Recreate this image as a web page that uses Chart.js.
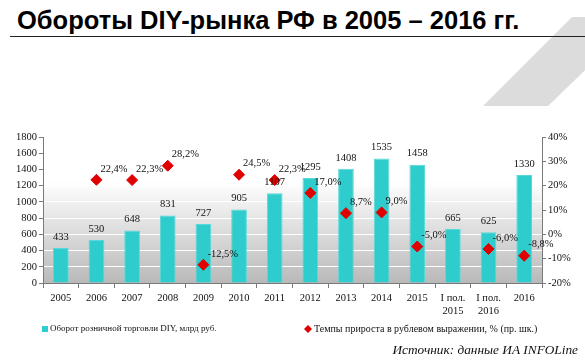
<!DOCTYPE html>
<html>
<head>
<meta charset="utf-8">
<script src="https://cdn.jsdelivr.net/npm/chart.js@4"></script>
<style>
  body { margin: 0; background: #fff; }
  #wrap { position: relative; width: 585px; height: 364px; overflow: hidden; }
  #deco { position: absolute; left: 0; top: 0; width: 585px; height: 364px;
          background: #dcdcdc; clip-path: polygon(483px 106px, 572px 17px, 640px 17px, 548px 106px); }
  #title { position: absolute; left: 17px; top: 6px; font: bold 25.5px "Liberation Sans", Arial, sans-serif;
           color: #000; white-space: nowrap; }
  #line { position: absolute; left: 10px; top: 36px; width: 575px; height: 1px; background: #222; }
  #source { position: absolute; right: 7px; top: 342px; font: italic 13.3px "Liberation Serif", serif; color: #111; }
  canvas { position: absolute; left: 0; top: 0; }
</style>
</head>
<body>
<div id="wrap">
  <div id="deco"></div>
  <div id="title">Обороты DIY-рынка РФ в 2005 – 2016 гг.</div>
  <div id="line"></div>
  <canvas id="grafico" width="585" height="364"></canvas>
  <div id="source">Источник: данные ИА INFOLine</div>
</div>
<script>
const categorias = ['2005', '2006', '2007', '2008', '2009', '2010', '2011', '2012', '2013', '2014', '2015',
  ['I пол.', '2015'], ['I пол.', '2016'], '2016'];
const oborot = [433, 530, 648, 831, 727, 905, 1107, 1295, 1408, 1535, 1458, 665, 625, 1330];
const temp = [null, 22.4, 22.3, 28.2, -12.5, 24.5, 22.3, 17.0, 8.7, 9.0, -5.0, null, -6.0, -8.8];
const legendas = ['Оборот розничной торговли DIY, млрд руб.', 'Темпы прироста в рублевом выражении, % (пр. шк.)'];

const serif = '"Liberation Serif", "Times New Roman", serif';

// fundo cinza em degradê + rótulos + legenda
const extras = {
  id: 'extras',
  beforeDraw(chart) {
    const { ctx, chartArea: a } = chart;
    const g = ctx.createLinearGradient(0, a.top, 0, a.bottom);
    g.addColorStop(0, '#ffffff');
    g.addColorStop(0.3, '#ffffff');
    g.addColorStop(1, '#b9b9b9');
    ctx.save();
    ctx.fillStyle = g;
    ctx.fillRect(a.left, a.top, a.right - a.left, a.bottom - a.top);
    ctx.restore();
  },
  afterDatasetsDraw(chart) {
    const ctx = chart.ctx;
    ctx.save();
    ctx.font = '10.5px ' + serif;
    ctx.fillStyle = '#111';
    const barras = chart.getDatasetMeta(1);
    ctx.textAlign = 'center';
    ctx.textBaseline = 'middle';
    barras.data.forEach((el, i) => {
      ctx.fillText(String(oborot[i]), el.x, el.y - 11);
    });
    const pontos = chart.getDatasetMeta(0);
    ctx.textAlign = 'left';
    pontos.data.forEach((el, i) => {
      if (temp[i] === null) return;
      const txt = temp[i].toFixed(1).replace('.', ',') + '%';
      ctx.fillText(txt, el.x + 4, el.y - 11);
    });
    ctx.restore();
  },
  afterDraw(chart) {
    const ctx = chart.ctx;
    ctx.save();
    ctx.textBaseline = 'middle';
    const y = 329;
    ctx.fillStyle = '#2ECCCC';
    ctx.fillRect(42, y - 3, 6, 6);
    ctx.fillStyle = '#111';
    ctx.font = '9px ' + serif;
    ctx.fillText(legendas[0], 50, y);
    ctx.fillStyle = '#E00000';
    ctx.beginPath();
    ctx.moveTo(308, y - 4); ctx.lineTo(312, y); ctx.lineTo(308, y + 4); ctx.lineTo(304, y);
    ctx.closePath();
    ctx.fill();
    ctx.fillStyle = '#111';
    ctx.font = '10px ' + serif;
    ctx.fillText(legendas[1], 314, y);
    ctx.restore();
  }
};

const ctx = document.getElementById('grafico').getContext('2d');
const chart = new Chart(ctx, {
  type: 'bar',
  data: {
    labels: categorias,
    datasets: [
      {
        type: 'line',
        label: legendas[1],
        data: temp,
        yAxisID: 'y1',
        showLine: false,
        pointStyle: 'rectRot',
        pointRadius: 5.5,
        pointBackgroundColor: '#E00000',
        pointBorderColor: '#E00000',
        order: 0
      },
      {
        label: legendas[0],
        data: oborot,
        yAxisID: 'y',
        backgroundColor: '#2ECCCC',
        borderColor: '#5ad8d8',
        borderWidth: 1,
        barPercentage: 0.44,
        categoryPercentage: 1,
        order: 1
      }
    ]
  },
  options: {
    responsive: false,
    animation: false,
    layout: { padding: { top: 137, left: 0, right: 0, bottom: 0 } },
    plugins: { legend: { display: false }, tooltip: { enabled: false } },
    scales: {
      x: {
        offset: true,
        afterFit: (s) => { s.height = 81; },
        grid: { offset: true, drawOnChartArea: false, tickLength: 5, color: '#7a7a7a' },
        border: { color: '#7a7a7a' },
        ticks: { font: { family: serif, size: 10.5 }, color: '#111', maxRotation: 0, autoSkip: false, padding: 4 }
      },
      y: {
        min: 0, max: 1800,
        afterFit: (s) => { s.width = 43; },
        grid: { color: '#ffffff', tickColor: '#7a7a7a', tickLength: 4 },
        border: { color: '#7a7a7a' },
        ticks: { stepSize: 200, font: { family: serif, size: 10.5 }, color: '#111', padding: 2,
                 callback: (v) => String(v) }
      },
      y1: {
        position: 'right',
        min: -20, max: 40,
        afterFit: (s) => { s.width = 43; },
        grid: { drawOnChartArea: false, tickColor: '#7a7a7a', tickLength: 4 },
        border: { color: '#7a7a7a' },
        ticks: { stepSize: 10, font: { family: serif, size: 10.5 }, color: '#111', padding: 2,
                 callback: (v) => v + '%' }
      }
    }
  },
  plugins: [extras]
});
</script>
</body>
</html>
